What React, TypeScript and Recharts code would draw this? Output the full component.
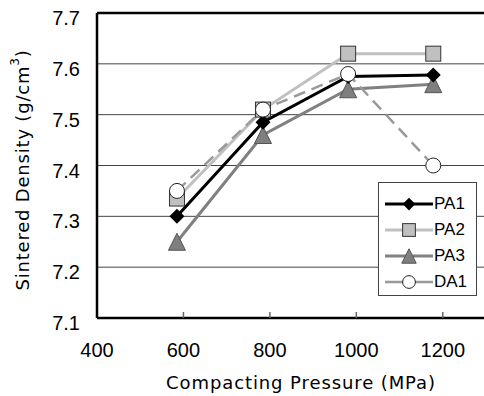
import React from 'react';
import { LineChart, Line, XAxis, YAxis, CartesianGrid, ReferenceLine } from 'recharts';

// compacting pressure (MPa)
const pressure = [585, 784, 981, 1178];

// sintered density (g/cm3)
const pa1 = [7.30, 7.485, 7.575, 7.578];
const pa2 = [7.335, 7.51, 7.62, 7.62];
const pa3 = [7.25, 7.46, 7.55, 7.56];
const da1 = [7.35, 7.51, 7.58, 7.40];

const xTicks = [400, 600, 800, 1000, 1200];
const yTicks = [7.1, 7.2, 7.3, 7.4, 7.5, 7.6, 7.7];

const data = pressure.map((p, i) => ({
    p,
    PA1: pa1[i],
    PA2: pa2[i],
    PA3: pa3[i],
    DA1: da1[i],
}));

const SANS = '"Liberation Sans", Arial, sans-serif';
const TITLE = '"DejaVu Sans", sans-serif';

type Shape = 'diamond' | 'square' | 'triangle' | 'circle';

const SERIES: { key: string; color: string; width: number; dash?: string; shape: Shape }[] = [
    { key: 'PA1', color: '#000000', width: 3, shape: 'diamond' },
    { key: 'PA2', color: '#c0c0c0', width: 3, shape: 'square' },
    { key: 'PA3', color: '#808080', width: 3, shape: 'triangle' },
    { key: 'DA1', color: '#999999', width: 2.5, dash: '12 7', shape: 'circle' },
];

const marker = (shape: Shape, cx: number, cy: number, k?: string, s = 1) => {
    switch (shape) {
        case 'diamond':
            return <polygon key={k} points={`${cx},${cy - 7.5 * s} ${cx + 7.5 * s},${cy} ${cx},${cy + 7.5 * s} ${cx - 7.5 * s},${cy}`} fill="#000" />;
        case 'square':
            return <rect key={k} x={cx - 7.5 * s} y={cy - 7.5 * s} width={15 * s} height={15 * s} fill="#c0c0c0" stroke="#333" strokeWidth={1} />;
        case 'triangle':
            return <polygon key={k} points={`${cx},${cy - 8.5 * s} ${cx + 8.5 * s},${cy + 8.5 * s} ${cx - 8.5 * s},${cy + 8.5 * s}`} fill="#7f7f7f" stroke="#555" strokeWidth={1} />;
        default:
            return <circle key={k} cx={cx} cy={cy} r={7.5 * s} fill="#fff" stroke="#222" strokeWidth={1} />;
    }
};

const dotFor = (shape: Shape, name: string) => (props: any) => {
    const { cx, cy, index } = props;
    return marker(shape, cx, cy, `${name}-${index}`);
};

const XTick = (props: any) => {
    const { x, y, payload } = props;
    return (
        <g>
            {payload.value !== 400 && <line x1={x} x2={x} y1={y - 6} y2={y} stroke="#666" strokeWidth={1.5} />}
            <text x={x} y={y + 32} textAnchor="middle" dominantBaseline="central" fontSize={20} fontFamily={SANS} fill="#000">
                {payload.value}
            </text>
        </g>
    );
};

const YTick = (props: any) => {
    const { x, y, payload } = props;
    return (
        <text x={x} y={y + 5} textAnchor="end" dominantBaseline="central" fontSize={20} fontFamily={SANS} fill="#000">
            {payload.value.toFixed(1)}
        </text>
    );
};

// legend kept outside the chart so it takes no room from the plot
const LegendBox = () => (
    <div style={{
        position: 'absolute', left: 378, top: 182,
        width: 99, height: 114, boxSizing: 'border-box', border: '1px solid #444',
        background: '#fff', paddingTop: 8,
    }}>
        {SERIES.map(s => (
            <div key={s.key} style={{ height: 26, display: 'flex', alignItems: 'center' }}>
                <svg width={55} height={26} style={{ display: 'block' }}>
                    <line x1={6} x2={54} y1={13} y2={13} stroke={s.color} strokeWidth={s.width} />
                    {marker(s.shape, 30, 13, undefined, 0.85)}
                </svg>
                <span style={{ fontSize: 17, fontFamily: SANS, color: '#000', lineHeight: '26px' }}>{s.key}</span>
            </div>
        ))}
    </div>
);

const XTitle = () => (
    <text x={301} y={382} textAnchor="middle" dominantBaseline="central" fontSize={18}
        fontFamily={TITLE} letterSpacing={0.9} fill="#000">
        Compacting Pressure (MPa)
    </text>
);

const YTitle = () => (
    <text x={22} y={170} transform="rotate(-90, 22, 170)" textAnchor="middle" dominantBaseline="central"
        fontSize={18} fontFamily={TITLE} letterSpacing={0.8} fill="#000">
        Sintered Density (g/cm<tspan dy={-7} fontSize={12}>3</tspan><tspan dy={7}>)</tspan>
    </text>
);

const order = ['PA2', 'PA3', 'PA1', 'DA1'];

export default function App() {
    return (
        <div style={{ position: 'absolute', left: 0, top: 0, width: 484, height: 396, overflow: 'hidden', background: '#fff' }}>
            <LineChart width={486} height={396} data={data} margin={{ top: 13, right: 0, left: 0, bottom: 0 }}>
                <CartesianGrid vertical={false} stroke="#444" strokeWidth={1} />
                <ReferenceLine y={7.7} stroke="#000" strokeWidth={2.5} />
                <XAxis
                    type="number"
                    dataKey="p"
                    domain={[400, 1300]}
                    ticks={xTicks}
                    height={78}
                    tickSize={0}
                    tickMargin={0}
                    tickLine={false}
                    axisLine={{ stroke: '#000', strokeWidth: 2.5 }}
                    tick={<XTick />}
                    label={{ content: () => <XTitle /> }}
                    interval={0}
                />
                <YAxis
                    type="number"
                    domain={[7.1, 7.7]}
                    ticks={yTicks}
                    width={97}
                    tickSize={0}
                    tickMargin={17}
                    tickLine={false}
                    axisLine={{ stroke: '#000', strokeWidth: 2.5 }}
                    tick={<YTick />}
                    label={{ content: () => <YTitle /> }}
                    interval={0}
                />
                {order.map(k => {
                    const s = SERIES.find(x => x.key === k)!;
                    return (
                        <Line
                            key={s.key}
                            dataKey={s.key}
                            type="linear"
                            stroke={s.color}
                            strokeWidth={s.width}
                            strokeDasharray={s.dash}
                            dot={dotFor(s.shape, s.key)}
                            activeDot={false}
                            isAnimationActive={false}
                        />
                    );
                })}
            </LineChart>
            <LegendBox />
        </div>
    );
}
